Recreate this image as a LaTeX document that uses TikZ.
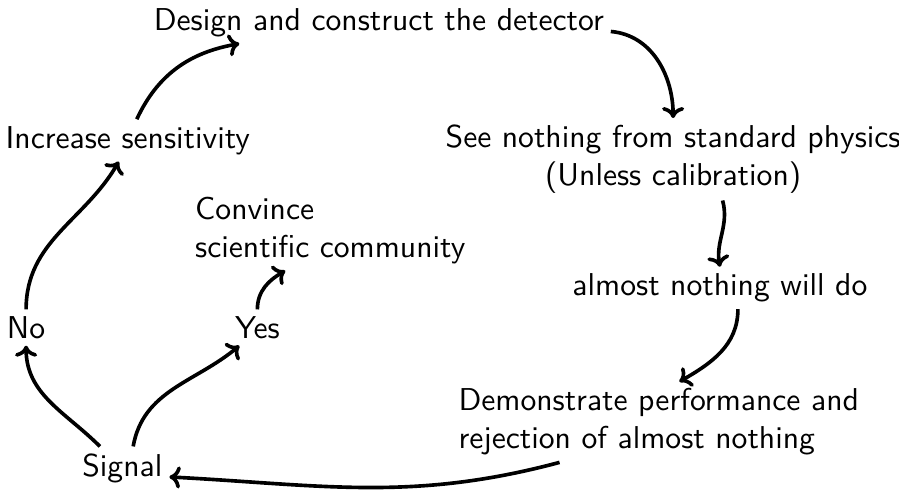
\documentclass[tikz,border=0pt]{standalone}
\usetikzlibrary{arrows.meta}
\tikzset{
  stepnode/.style={font=\sffamily,inner sep=2pt},
  cyclearrow/.style={-{To[length=3.5pt,width=7pt]},line width=1.15pt},
}
\begin{document}
\begin{tikzpicture}
  \useasboundingbox (0,0) rectangle (9.99,5.46);
  % nodes of the cycle
  \node[stepnode] (design) at (4.21,5.21) {Design and construct the detector};
  \node[stepnode] (incr) at (1.42,3.90) {Increase sensitivity};
  \node[stepnode,align=center] (see) at (7.48,3.69) {See nothing from standard physics\\(Unless calibration)};
  \node[stepnode,align=left] (convince) at (3.67,2.90) {Convince\\scientific community};
  \node[stepnode] (almost) at (8.0,2.26) {almost nothing will do};
  \node[stepnode] (no) at (0.29,1.82) {No};
  \node[stepnode] (yes) at (2.86,1.82) {Yes};
  \node[stepnode,align=left] (demo) at (7.32,0.77) {Demonstrate performance and\\rejection of almost nothing};
  \node[stepnode] (signal) at (1.36,0.26) {Signal};
  % connectors
  \draw[cyclearrow] ([yshift=-1mm]design.east) to[out=-5,in=90] (see.north);
  \draw[cyclearrow] ([xshift=5.5mm]see.south) to[out=-75,in=100] (almost.north);
  \draw[cyclearrow] ([xshift=2mm]almost.south) to[out=-90,in=30] ([xshift=2.3mm]demo.north);
  \draw[cyclearrow] ([xshift=1.2cm]demo.south west) to[out=195,in=-3] ([yshift=-1mm]signal.east);
  \draw[cyclearrow] ([xshift=-2.5mm]signal.north) to[out=135,in=-90] (no.south);
  \draw[cyclearrow] ([xshift=1.2mm]signal.north) to[out=80,in=220] ([xshift=-2mm]yes.south);
  \draw[cyclearrow] (yes.north) to[out=90,in=210] ([xshift=-5mm]convince.south);
  \draw[cyclearrow] (no.north) to[out=90,in=240] ([xshift=-1mm]incr.south);
  \draw[cyclearrow] ([xshift=1mm]incr.north) to[out=65,in=190] ([xshift=-1.55cm]design.south);
\end{tikzpicture}
\end{document}
